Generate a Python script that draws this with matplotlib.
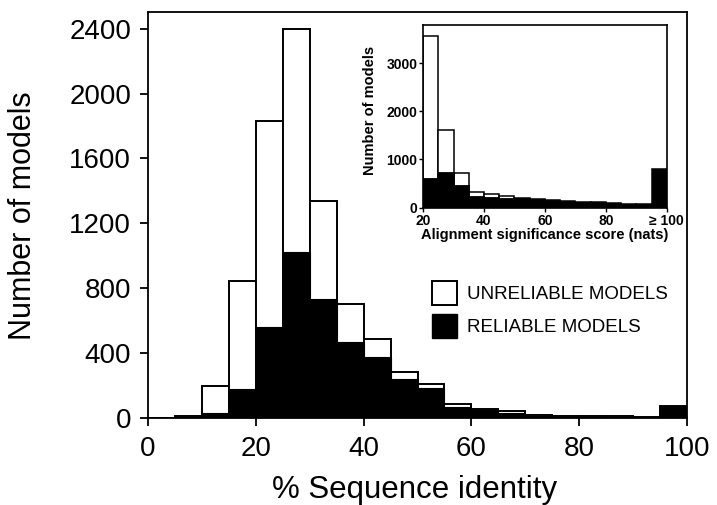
import matplotlib
matplotlib.use('Agg')
import matplotlib.pyplot as plt
import matplotlib.patches as mpatches
import numpy as np

plt.rcParams['font.family'] = ['Liberation Sans', 'DejaVu Sans']

# main histogram: % sequence identity, 5 % bins
bin_left = np.arange(0, 100, 5)
all_models = [3, 12, 199, 845, 1830, 2398, 1340, 704, 488, 287,
              213, 90, 60, 42, 18, 14, 14, 14, 11, 73]
reliable = [0, 10, 31, 180, 564, 1027, 734, 468, 375, 242,
            185, 71, 50, 35, 12, 10, 10, 10, 8, 71]

# inset: alignment significance score (nats), last bin is >= 100
inset_left = np.arange(20, 100, 5)
inset_all = [3571, 1612, 713, 320, 290, 245, 208, 187,
             152, 145, 125, 110, 97, 83, 76, 803]
inset_reliable = [609, 733, 470, 235, 215, 195, 200, 187,
                  152, 145, 125, 110, 97, 83, 76, 803]

fig = plt.figure(figsize=(7.17, 5.05), dpi=100)
ax = fig.add_axes([0.206, 0.1717, 0.7526, 0.8039])

ax.bar(bin_left, all_models, width=5, align='edge', color='white',
       edgecolor='black', linewidth=1.4, zorder=2)
ax.bar(bin_left, reliable, width=5, align='edge', color='black',
       edgecolor='black', linewidth=0.8, zorder=3)

ax.set_xlim(0, 100)
ax.set_ylim(0, 2500)
ax.set_xticks(np.arange(0, 101, 20))
ax.set_yticks(np.arange(0, 2401, 400))
ax.tick_params(direction='out', length=6, width=1.3, labelsize=20)
ax.tick_params(axis='y', pad=6)
ax.tick_params(axis='x', pad=7)
for s in ax.spines.values():
    s.set_linewidth(1.3)
ax.set_xlabel('% Sequence identity', fontsize=22.5)
ax.set_ylabel('Number of models', fontsize=22)
ax.xaxis.set_label_coords(0.495, -0.14)
ax.yaxis.set_label_coords(-0.203, 0.5)

handles = [mpatches.Patch(facecolor='white', edgecolor='black', linewidth=1.4),
           mpatches.Patch(facecolor='black', edgecolor='black')]
ax.legend(handles, ['UNRELIABLE MODELS', 'RELIABLE MODELS'], loc='upper left',
          bbox_to_anchor=(0.603, 0.443), bbox_transform=fig.transFigure,
          frameon=False, fontsize=13.5, handlelength=1.3, handleheight=1.58,
          handletextpad=0.55, labelspacing=0.46, borderpad=0, borderaxespad=0)

# inset
ins = fig.add_axes([0.590, 0.589, 0.340, 0.361])
ins.bar(inset_left, inset_all, width=5, align='edge', color='white',
        edgecolor='black', linewidth=1.1, zorder=2)
ins.bar(inset_left, inset_reliable, width=5, align='edge', color='black',
        edgecolor='black', linewidth=0.6, zorder=3)
ins.set_xlim(20, 100)
ins.set_ylim(0, 3790)
ins.set_xticks([20, 40, 60, 80, 100])
ins.set_xticklabels(['20', '40', '60', '80', '\u2265 100'])
ins.set_yticks([0, 1000, 2000, 3000])
ins.tick_params(direction='out', length=3, width=1, labelsize=10)
ins.tick_params(axis='y', pad=1)
ins.tick_params(axis='x', pad=2)
for lab in ins.get_xticklabels() + ins.get_yticklabels():
    lab.set_fontweight('bold')
for s in ins.spines.values():
    s.set_linewidth(1.2)
ins.set_xlabel('Alignment significance score (nats)', fontsize=10.5,
               fontweight='bold', labelpad=0)
ins.set_ylabel('Number of models', fontsize=10.5, fontweight='bold')
ins.yaxis.set_label_coords(-0.19, 0.53)

fig.savefig('out.png', dpi=100)
